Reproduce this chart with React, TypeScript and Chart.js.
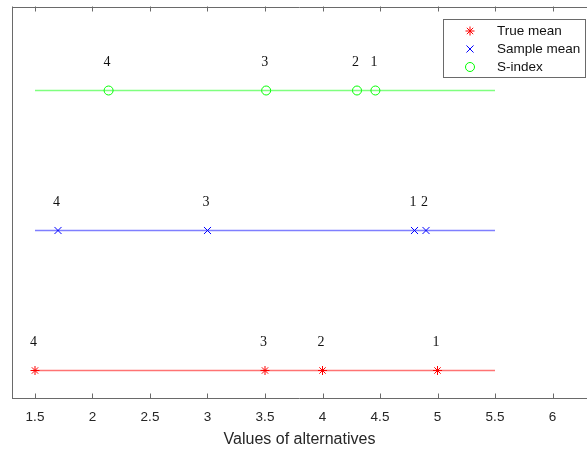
import React, { useEffect, useRef } from "react";
import { Chart, registerables } from "chart.js";

Chart.register(...registerables);

// ---- data ----
const ALTERNATIVES = ["1", "2", "3", "4"];
const TRUE_MEAN = [5.0, 4.0, 3.5, 1.5];
const SAMPLE_MEAN = [4.8, 4.9, 3.0, 1.7];
const S_INDEX = [4.46, 4.3, 3.51, 2.14];
const LINE_RANGE = [1.5, 5.5];
const ROW_LEVELS = [1, 2, 3]; // True mean, Sample mean, S-index
const SERIES_NAMES = ["True mean", "Sample mean", "S-index"];
const X_TICKS = [1.5, 2, 2.5, 3, 3.5, 4, 4.5, 5, 5.5, 6];
const X_LIMITS = [1.3, 6.3];
const Y_LIMITS = [0.8, 3.6];
const X_TITLE = "Values of alternatives";

const SERIES_VALUES = [TRUE_MEAN, SAMPLE_MEAN, S_INDEX];
const MARKER_COLORS = ["#ff0000", "#0000ff", "#00ff00"];
const LINE_COLORS = ["rgba(255,0,0,0.55)", "rgba(0,0,255,0.5)", "rgba(0,255,0,0.5)"];
const MARKER_STYLES = ["star", "crossRot", "circle"];
const MARKER_RADII = [4.5, 5, 4.5];
const AXIS_COLOR = "#262626";
const FRAME_COLOR = "#6a6a6a";

function drawMarker(ctx: CanvasRenderingContext2D, style: string, x: number, y: number, r: number) {
  ctx.beginPath();
  if (style === "circle") {
    ctx.arc(x, y, r, 0, Math.PI * 2);
  } else if (style === "crossRot") {
    const d = r * 0.7071;
    ctx.moveTo(x - d, y - d);
    ctx.lineTo(x + d, y + d);
    ctx.moveTo(x - d, y + d);
    ctx.lineTo(x + d, y - d);
  } else {
    const d = r * 0.7071;
    ctx.moveTo(x - r, y);
    ctx.lineTo(x + r, y);
    ctx.moveTo(x, y - r);
    ctx.lineTo(x, y + r);
    ctx.moveTo(x - d, y - d);
    ctx.lineTo(x + d, y + d);
    ctx.moveTo(x - d, y + d);
    ctx.lineTo(x + d, y - d);
  }
  ctx.stroke();
}

const overlayPlugin = {
  id: "overlay",
  afterDraw(chart: any) {
    const { ctx, chartArea } = chart;
    const xs = chart.scales.x;
    const ys = chart.scales.y;
    const { left, right, top, bottom } = chartArea;
    ctx.save();
    // frame (box)
    ctx.strokeStyle = FRAME_COLOR;
    ctx.lineWidth = 1;
    ctx.beginPath();
    ctx.moveTo(left + 0.5, top);
    ctx.lineTo(left + 0.5, bottom);
    ctx.moveTo(left, Math.round(top) + 0.5);
    ctx.lineTo(right, Math.round(top) + 0.5);
    ctx.moveTo(left, Math.round(bottom) - 0.5);
    ctx.lineTo(right, Math.round(bottom) - 0.5);
    ctx.stroke();
    // inward ticks
    ctx.beginPath();
    X_TICKS.forEach((v) => {
      const px = Math.round(xs.getPixelForValue(v)) + 0.5;
      ctx.moveTo(px, bottom);
      ctx.lineTo(px, bottom - 5);
      ctx.moveTo(px, top);
      ctx.lineTo(px, top + 5);
    });
    ctx.stroke();

    // rank labels above markers
    ctx.fillStyle = "#111";
    ctx.font = "14px 'Liberation Serif', 'DejaVu Serif', serif";
    ctx.textAlign = "center";
    ctx.textBaseline = "middle";
    SERIES_VALUES.forEach((vals, si) => {
      const py = ys.getPixelForValue(ROW_LEVELS[si]);
      vals.forEach((v, i) => {
        const px = xs.getPixelForValue(v);
        ctx.fillText(ALTERNATIVES[i], px - 1.5, py - 28);
      });
    });

    // legend
    const bx = 443.5, by = 19.5, bw = 142, bh = 58;
    ctx.fillStyle = "#ffffff";
    ctx.fillRect(bx, by, bw, bh);
    ctx.strokeStyle = FRAME_COLOR;
    ctx.strokeRect(bx, by, bw, bh);
    ctx.font = "13.5px 'Liberation Sans', Arial, sans-serif";
    ctx.textAlign = "left";
    ctx.textBaseline = "middle";
    const rowYs = [31, 49, 67];
    SERIES_NAMES.forEach((name, si) => {
      const my = rowYs[si];
      ctx.strokeStyle = MARKER_COLORS[si];
      ctx.lineWidth = 1;
      drawMarker(ctx, MARKER_STYLES[si], 470, my, MARKER_RADII[si]);
      ctx.fillStyle = "#111";
      ctx.fillText(name, 497, my + 0.5);
    });
    ctx.restore();
  },
};

export default function App() {
  const canvasRef = useRef<HTMLCanvasElement | null>(null);

  useEffect(() => {
    const canvas = canvasRef.current;
    if (!canvas) return;

    const datasets: any[] = [];
    SERIES_VALUES.forEach((vals, si) => {
      datasets.push({
        label: SERIES_NAMES[si],
        data: vals.map((v) => ({ x: v, y: ROW_LEVELS[si] })),
        showLine: false,
        pointStyle: MARKER_STYLES[si],
        pointRadius: MARKER_RADII[si],
        pointBorderColor: MARKER_COLORS[si],
        pointBackgroundColor: "rgba(0,0,0,0)",
        pointBorderWidth: 1,
        order: 0,
      });
      datasets.push({
        label: SERIES_NAMES[si] + " line",
        data: LINE_RANGE.map((v) => ({ x: v, y: ROW_LEVELS[si] })),
        showLine: true,
        borderColor: LINE_COLORS[si],
        borderWidth: 1.5,
        pointRadius: 0,
        order: 1,
      });
    });

    const chart = new Chart(canvas, {
      type: "scatter",
      data: { datasets },
      options: {
        animation: false,
        responsive: false,
        maintainAspectRatio: false,
        layout: { autoPadding: false, padding: { left: 12, top: 6.5, right: 0, bottom: 0 } },
        plugins: {
          legend: { display: false },
          tooltip: { enabled: false },
        },
        scales: {
          x: {
            type: "linear",
            min: X_LIMITS[0],
            max: X_LIMITS[1],
            afterBuildTicks: (scale: any) => {
              scale.ticks = X_TICKS.map((v) => ({ value: v }));
            },
            afterFit: (scale: any) => {
              scale.height = 50.5;
            },
            grid: { display: false, drawTicks: false },
            border: { display: false },
            ticks: {
              padding: 11,
              color: AXIS_COLOR,
              font: { family: "'Liberation Sans', Arial, sans-serif", size: 13.5 },
              maxRotation: 0,
              autoSkip: false,
              callback: (v: any) => String(v),
            },
            title: {
              display: true,
              text: X_TITLE,
              color: AXIS_COLOR,
              font: { family: "'Liberation Sans', Arial, sans-serif", size: 16 },
              padding: { top: 0, bottom: 0 },
            },
          },
          y: {
            type: "linear",
            display: false,
            min: Y_LIMITS[0],
            max: Y_LIMITS[1],
          },
        },
      },
      plugins: [overlayPlugin],
    });
    return () => chart.destroy();
  }, []);

  return (
    <div style={{ position: "fixed", left: 0, top: 0, width: 587, height: 449, background: "#fff" }}>
      <canvas ref={canvasRef} width={587} height={449} style={{ display: "block", width: 587, height: 449 }} />
    </div>
  );
}
